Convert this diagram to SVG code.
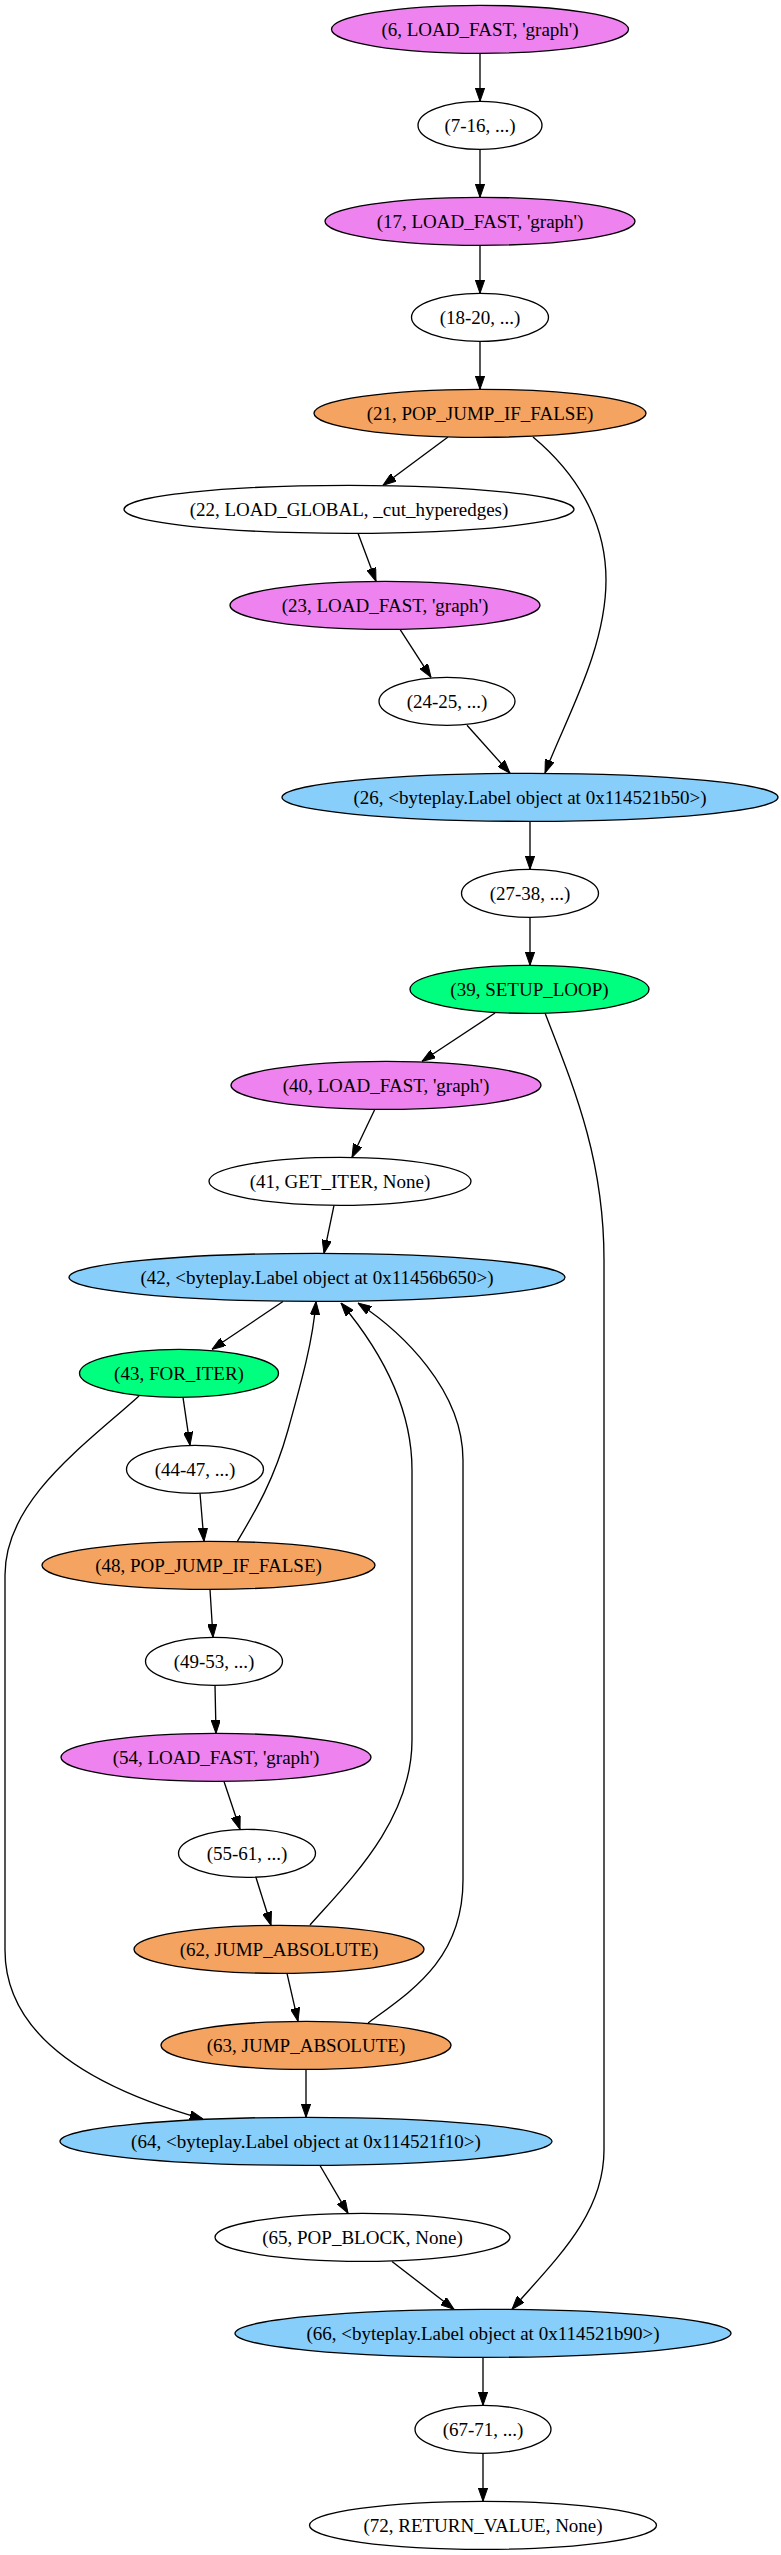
<svg xmlns="http://www.w3.org/2000/svg" width="781" height="2555" viewBox="0 0 781 2555">
<style>
.n ellipse{stroke:#000;stroke-width:1.33}
.n text{font-family:"Liberation Serif","Times New Roman",serif;font-size:19px;text-anchor:middle;fill:#000}
.w{fill:#fff}.v{fill:#ee82ee}.o{fill:#f4a460}.g{fill:#00ff7f}.b{fill:#87cefa}
.e path{fill:none;stroke:#000;stroke-width:1.33;marker-end:url(#ah)}
</style>
<defs>
<marker id="ah" markerUnits="userSpaceOnUse" viewBox="0 0 13.33 9.33" refX="13.33" refY="4.67" markerWidth="13.33" markerHeight="9.33" orient="auto">
<path d="M0,0 L13.33,4.67 L0,9.33 z" fill="#000" stroke="#000" stroke-width="1"/>
</marker>
</defs>
<rect width="781" height="2555" fill="#fff"/>
<g id="edges" class="e">
<path d="M480,53.3 L480,101.3"/>
<path d="M480,149.3 L480,197.3"/>
<path d="M480,245.3 L480,293.3"/>
<path d="M480,341.3 L480,389.3"/>
<path d="M448,437 L383,485.3"/>
<path d="M533,437 C575,472 606,520 606,580 C606,650 565,720 545,773"/>
<path d="M358,533.3 L376,581.3"/>
<path d="M400,629.3 L431,677.3"/>
<path d="M467,725.3 L510,773.3"/>
<path d="M530,821.3 L530,869.3"/>
<path d="M530,917.3 L530,965.3"/>
<path d="M495,1013 L422,1061.3"/>
<path d="M545,1013 C575,1090 604,1160 604,1260 L604,2150 C604,2215 555,2260 512,2309.3"/>
<path d="M375,1109 L352,1157.3"/>
<path d="M334,1205.3 L324,1253.3"/>
<path d="M283,1301.5 L212,1349.3"/>
<path d="M183,1397.3 L190,1445.3"/>
<path d="M139,1396 C85,1445 5,1500 5,1575 L5,1950 C5,2040 100,2090 203,2119"/>
<path d="M200,1493.3 L204,1541.3"/>
<path d="M237,1542 C256,1510 274,1480 288,1430 C302,1380 313,1340 316,1301.5"/>
<path d="M210,1589.3 L213,1637.3"/>
<path d="M215,1685.3 L216,1733.3"/>
<path d="M224,1781.5 L240,1829.3"/>
<path d="M256,1877.5 L271,1925.3"/>
<path d="M310,1925 C350,1880 412,1820 412,1740 L412,1470 C412,1400 372,1340 341,1303"/>
<path d="M287,1973.3 L298,2021.3"/>
<path d="M368,2023 C410,1992 463,1960 463,1880 L463,1460 C463,1390 402,1332 358,1303"/>
<path d="M306,2069.3 L306,2117.3"/>
<path d="M320,2165.5 L348,2213.3"/>
<path d="M392,2261.5 L454,2309.3"/>
<path d="M483,2357.3 L483,2405.3"/>
<path d="M483,2453.3 L483,2501.3"/>
</g>
<g id="n6" class="n"><ellipse class="v" cx="480" cy="29.33" rx="148.5" ry="24"/><text x="480" y="35.5">(6, LOAD_FAST, 'graph')</text></g>
<g id="n7" class="n"><ellipse class="w" cx="480" cy="125.33" rx="62" ry="24"/><text x="480" y="131.5">(7-16, ...)</text></g>
<g id="n17" class="n"><ellipse class="v" cx="480" cy="221.33" rx="155" ry="24"/><text x="480" y="227.5">(17, LOAD_FAST, 'graph')</text></g>
<g id="n18" class="n"><ellipse class="w" cx="480" cy="317.33" rx="68.5" ry="24"/><text x="480" y="323.5">(18-20, ...)</text></g>
<g id="n21" class="n"><ellipse class="o" cx="480" cy="413.33" rx="166" ry="24"/><text x="480" y="419.5">(21, POP_JUMP_IF_FALSE)</text></g>
<g id="n22" class="n"><ellipse class="w" cx="349" cy="509.33" rx="225" ry="24"/><text x="349" y="515.5">(22, LOAD_GLOBAL, _cut_hyperedges)</text></g>
<g id="n23" class="n"><ellipse class="v" cx="385" cy="605.33" rx="155" ry="24"/><text x="385" y="611.5">(23, LOAD_FAST, 'graph')</text></g>
<g id="n24" class="n"><ellipse class="w" cx="447" cy="701.33" rx="68" ry="24"/><text x="447" y="707.5">(24-25, ...)</text></g>
<g id="n26" class="n"><ellipse class="b" cx="530" cy="797.33" rx="248" ry="24"/><text x="530" y="803.5">(26, &lt;byteplay.Label object at 0x114521b50&gt;)</text></g>
<g id="n27" class="n"><ellipse class="w" cx="530" cy="893.33" rx="68.5" ry="24"/><text x="530" y="899.5">(27-38, ...)</text></g>
<g id="n39" class="n"><ellipse class="g" cx="529.5" cy="989.33" rx="119.5" ry="24"/><text x="529.5" y="995.5">(39, SETUP_LOOP)</text></g>
<g id="n40" class="n"><ellipse class="v" cx="386" cy="1085.33" rx="155" ry="24"/><text x="386" y="1091.5">(40, LOAD_FAST, 'graph')</text></g>
<g id="n41" class="n"><ellipse class="w" cx="340" cy="1181.33" rx="131" ry="24"/><text x="340" y="1187.5">(41, GET_ITER, None)</text></g>
<g id="n42" class="n"><ellipse class="b" cx="317" cy="1277.33" rx="248" ry="24"/><text x="317" y="1283.5">(42, &lt;byteplay.Label object at 0x11456b650&gt;)</text></g>
<g id="n43" class="n"><ellipse class="g" cx="179" cy="1373.33" rx="99.5" ry="24"/><text x="179" y="1379.5">(43, FOR_ITER)</text></g>
<g id="n44" class="n"><ellipse class="w" cx="195" cy="1469.33" rx="68.5" ry="24"/><text x="195" y="1475.5">(44-47, ...)</text></g>
<g id="n48" class="n"><ellipse class="o" cx="208.5" cy="1565.33" rx="166.5" ry="24"/><text x="208.5" y="1571.5">(48, POP_JUMP_IF_FALSE)</text></g>
<g id="n49" class="n"><ellipse class="w" cx="214" cy="1661.33" rx="68.5" ry="24"/><text x="214" y="1667.5">(49-53, ...)</text></g>
<g id="n54" class="n"><ellipse class="v" cx="216" cy="1757.33" rx="155" ry="24"/><text x="216" y="1763.5">(54, LOAD_FAST, 'graph')</text></g>
<g id="n55" class="n"><ellipse class="w" cx="247" cy="1853.33" rx="68.5" ry="24"/><text x="247" y="1859.5">(55-61, ...)</text></g>
<g id="n62" class="n"><ellipse class="o" cx="279" cy="1949.33" rx="145" ry="24"/><text x="279" y="1955.5">(62, JUMP_ABSOLUTE)</text></g>
<g id="n63" class="n"><ellipse class="o" cx="306" cy="2045.33" rx="145" ry="24"/><text x="306" y="2051.5">(63, JUMP_ABSOLUTE)</text></g>
<g id="n64" class="n"><ellipse class="b" cx="306" cy="2141.33" rx="246" ry="24"/><text x="306" y="2147.5">(64, &lt;byteplay.Label object at 0x114521f10&gt;)</text></g>
<g id="n65" class="n"><ellipse class="w" cx="362.5" cy="2237.33" rx="147.5" ry="24"/><text x="362.5" y="2243.5">(65, POP_BLOCK, None)</text></g>
<g id="n66" class="n"><ellipse class="b" cx="483" cy="2333.33" rx="248" ry="24"/><text x="483" y="2339.5">(66, &lt;byteplay.Label object at 0x114521b90&gt;)</text></g>
<g id="n67" class="n"><ellipse class="w" cx="483" cy="2429.33" rx="68" ry="24"/><text x="483" y="2435.5">(67-71, ...)</text></g>
<g id="n72" class="n"><ellipse class="w" cx="483" cy="2525.33" rx="173.5" ry="24"/><text x="483" y="2531.5">(72, RETURN_VALUE, None)</text></g>
</svg>
